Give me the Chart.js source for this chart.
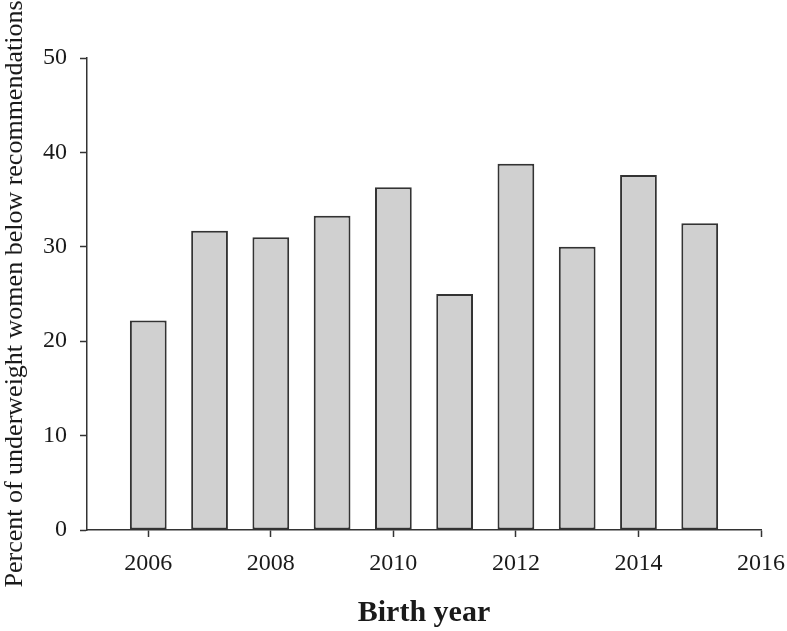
<!DOCTYPE html>
<html>
<head>
<meta charset="utf-8">
<script src="https://cdn.jsdelivr.net/npm/chart.js@4"></script>
<style>
  html, body { margin: 0; padding: 0; background: #fff; }
  #wrap { width: 787px; height: 631px; }
</style>
</head>
<body>
<div id="wrap"><canvas id="barChart" width="787" height="631"></canvas></div>
<script>
// data
const years = [2006, 2007, 2008, 2009, 2010, 2011, 2012, 2013, 2014, 2015];
const percentBelow = [22.2, 31.7, 31.0, 33.3, 36.3, 25.0, 38.8, 30.0, 37.6, 32.5];
const xTicks = [2006, 2008, 2010, 2012, 2014, 2016];
const yTicks = [0, 10, 20, 30, 40, 50];

const serif = '"Liberation Serif", "Times New Roman", serif';
const ink = '#333333';

const ctx = document.getElementById('barChart').getContext('2d');
new Chart(ctx, {
    type: 'bar',
    data: {
        datasets: [{
            label: 'Percent below recommendations',
            data: years.map((yr, i) => ({ x: yr, y: percentBelow[i] })),
            backgroundColor: '#d0d0d0',
            borderColor: ink,
            borderWidth: 2,
            borderSkipped: false,
            categoryPercentage: 1.0,
            barPercentage: 0.6
        }]
    },
    options: {
        responsive: false,
        animation: false,
        layout: { padding: { top: 58, right: 26, left: 0, bottom: 0 } },
        plugins: { legend: { display: false }, tooltip: { enabled: false } },
        scales: {
            x: {
                type: 'linear',
                min: 2005,
                max: 2016,
                offset: false,
                afterBuildTicks: (scale) => { scale.ticks = xTicks.map(v => ({ value: v })); },
                afterFit: (scale) => {
                    scale.height = 101;
                    // let the layout padding decide the right edge
                    scale.paddingLeft = 0;
                    scale.paddingRight = 0;
                },
                grid: { offset: false, drawOnChartArea: false, drawTicks: true, tickLength: 7, tickColor: ink, tickWidth: 1.5 },
                border: { display: true, color: ink, width: 1.5 },
                ticks: {
                    color: '#1a1a1a',
                    font: { family: serif, size: 24 },
                    padding: 12,
                    maxRotation: 0,
                    autoSkip: false,
                    callback: (v) => String(v)
                },
                title: {
                    display: true,
                    text: 'Birth year',
                    color: '#1a1a1a',
                    font: { family: serif, size: 30, weight: 'bold' },
                    padding: 0
                }
            },
            y: {
                min: 0,
                max: 50,
                afterBuildTicks: (scale) => { scale.ticks = yTicks.map(v => ({ value: v })); },
                afterFit: (scale) => { scale.width = 87; },
                grid: { drawOnChartArea: false, drawTicks: true, tickLength: 7, tickColor: ink, tickWidth: 1.5 },
                border: { display: true, color: ink, width: 1.5 },
                ticks: {
                    color: '#1a1a1a',
                    font: { family: serif, size: 24 },
                    padding: 13
                },
                title: {
                    display: true,
                    text: 'Percent of underweight women below recommendations',
                    color: '#1a1a1a',
                    font: { family: serif, size: 26 },
                    padding: 0
                }
            }
        }
    }
});
</script>
</body>
</html>
